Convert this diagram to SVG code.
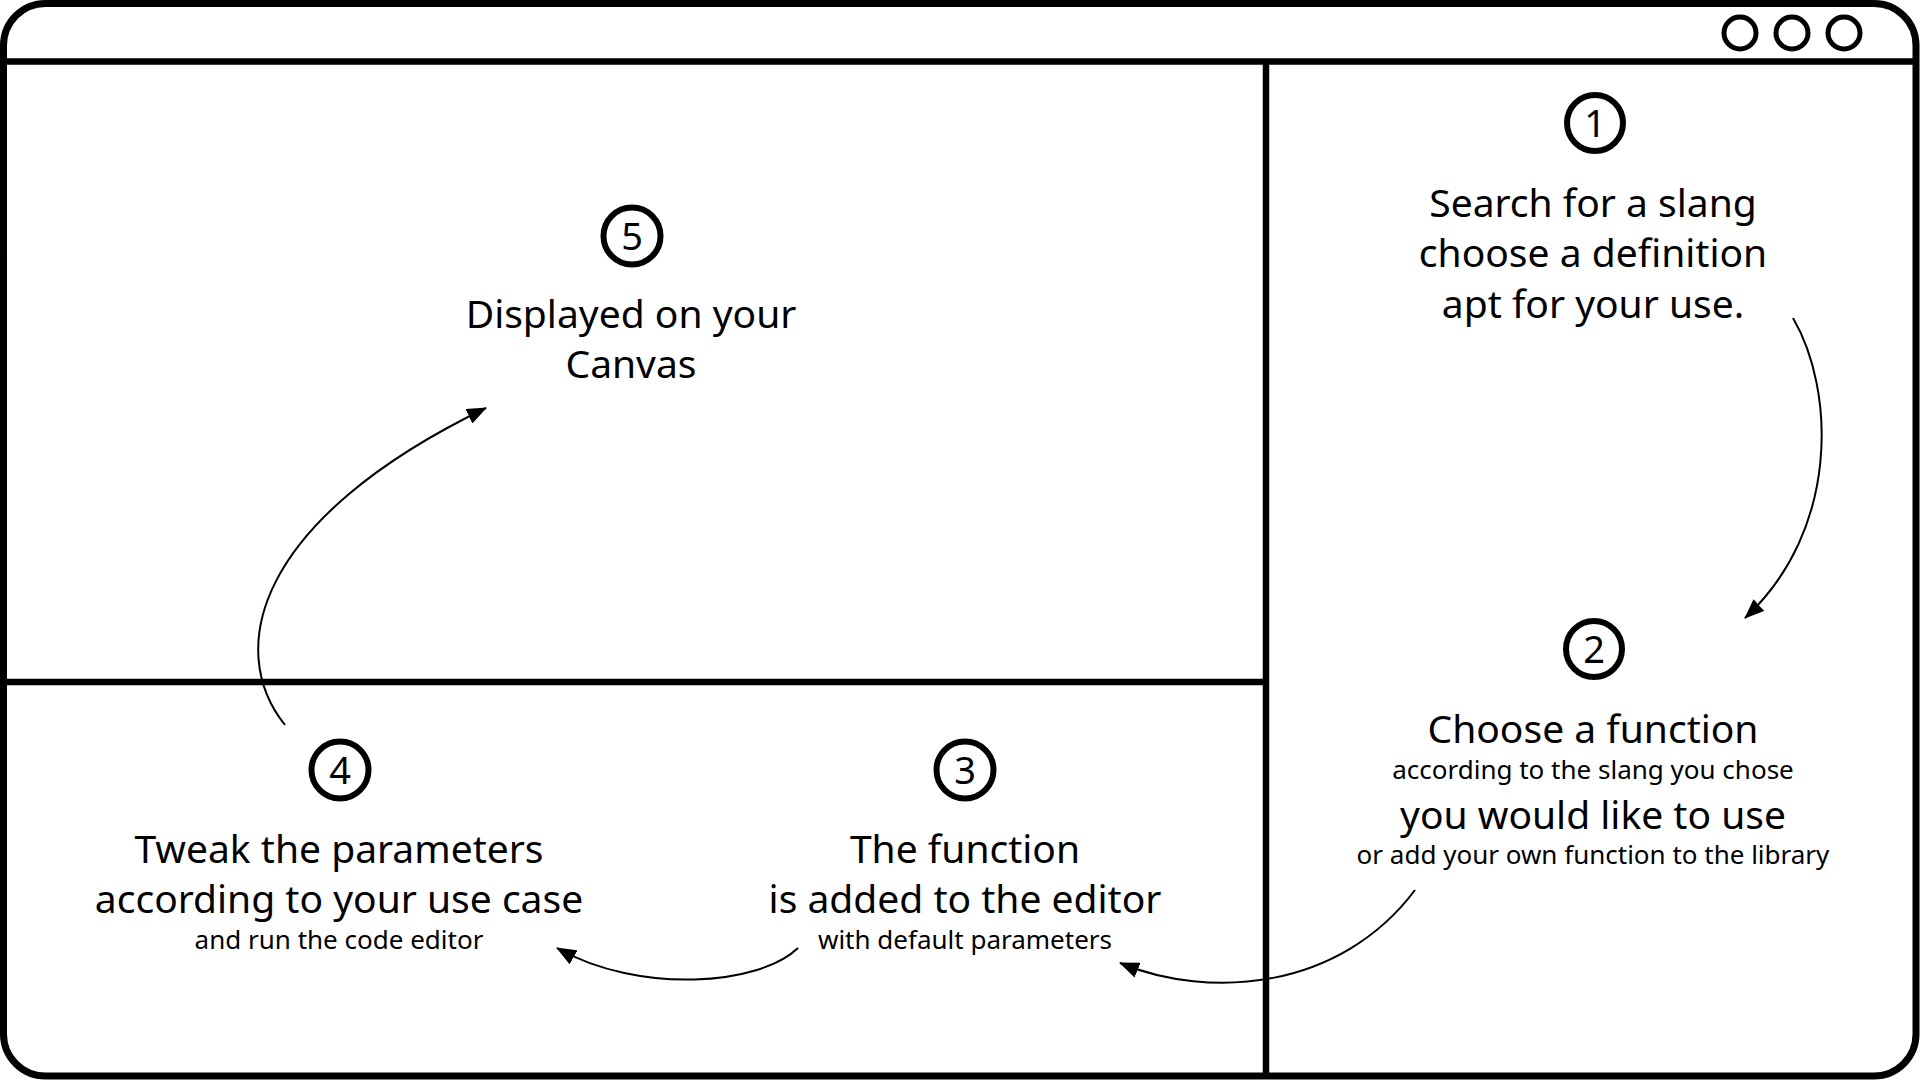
<svg xmlns="http://www.w3.org/2000/svg" width="1920" height="1080" viewBox="0 0 1920 1080">
  <style>
    .frame { fill: none; stroke: #000; stroke-width: 7; }
    .div { stroke: #000; stroke-width: 6.5; fill: none; }
    .dot { fill: none; stroke: #000; stroke-width: 5; }
    .badge { fill: none; stroke: #000; stroke-width: 6; }
    .num { font-family: "Noto Sans", "Open Sans", sans-serif; font-size: 38px; text-anchor: middle; fill: #000; }
    .big { font-family: "Noto Sans", "Open Sans", sans-serif; font-size: 39px; text-anchor: middle; fill: #000; }
    .small { font-family: "Noto Sans", "Open Sans", sans-serif; font-size: 26px; text-anchor: middle; fill: #000; }
    .conn { fill: none; stroke: #000; stroke-width: 2; marker-end: url(#arrow); }
  </style>
  <defs>
    <marker id="arrow" viewBox="0 0 20 16" refX="19" refY="8" markerWidth="20" markerHeight="16" markerUnits="userSpaceOnUse" orient="auto">
      <path d="M0,0 L20,8 L0,16 Z" fill="#000"/>
    </marker>
  </defs>
  <rect width="1920" height="1080" fill="#fff"/>
  <g id="window">
    <rect class="frame" x="3.5" y="3.5" width="1912.5" height="1072.5" rx="42" ry="42"/>
    <line class="div" x1="3.5" y1="61.5" x2="1916" y2="61.5"/>
    <line class="div" x1="1266" y1="61.5" x2="1266" y2="1076"/>
    <line class="div" x1="3.5" y1="682" x2="1266" y2="682"/>
    <circle class="dot" cx="1740" cy="33" r="16"/>
    <circle class="dot" cx="1792" cy="33" r="16"/>
    <circle class="dot" cx="1844" cy="33" r="16"/>
  </g>
  <g id="node1">
    <circle class="badge" cx="1595" cy="123" r="28"/>
    <text class="num" x="1595" y="136.5">1</text>
    <text class="big" x="1593" y="217">Search for a slang</text>
    <text class="big" x="1593" y="267">choose a definition</text>
    <text class="big" x="1593" y="318">apt for your use.</text>
  </g>
  <g id="node2">
    <circle class="badge" cx="1594" cy="649" r="28"/>
    <text class="num" x="1594" y="662.5">2</text>
    <text class="big" x="1593" y="743">Choose a function</text>
    <text class="small" x="1593" y="779">according to the slang you chose</text>
    <text class="big" x="1593" y="829">you would like to use</text>
    <text class="small" x="1593" y="864">or add your own function to the library</text>
  </g>
  <g id="node3">
    <circle class="badge" cx="965" cy="770" r="28.5"/>
    <text class="num" x="965" y="783.5">3</text>
    <text class="big" x="965" y="863">The function</text>
    <text class="big" x="965" y="913">is added to the editor</text>
    <text class="small" x="965" y="949">with default parameters</text>
  </g>
  <g id="node4">
    <circle class="badge" cx="340" cy="770" r="28.5"/>
    <text class="num" x="340" y="783.5">4</text>
    <text class="big" x="339" y="863">Tweak the parameters</text>
    <text class="big" x="339" y="913">according to your use case</text>
    <text class="small" x="339" y="949">and run the code editor</text>
  </g>
  <g id="node5">
    <circle class="badge" cx="632" cy="236" r="28.5"/>
    <text class="num" x="632" y="249.5">5</text>
    <text class="big" x="631" y="328">Displayed on your</text>
    <text class="big" x="631" y="378">Canvas</text>
  </g>
  <g id="connectors">
    <path class="conn" d="M1793,318 C1835,390 1840,530 1745,618"/>
    <path class="conn" d="M1415,890 C1340,990 1210,1000 1120,963"/>
    <path class="conn" d="M798,948 C760,985 640,995 557,948"/>
    <path class="conn" d="M285,725 C225,650 255,520 486,408"/>
  </g>
</svg>
